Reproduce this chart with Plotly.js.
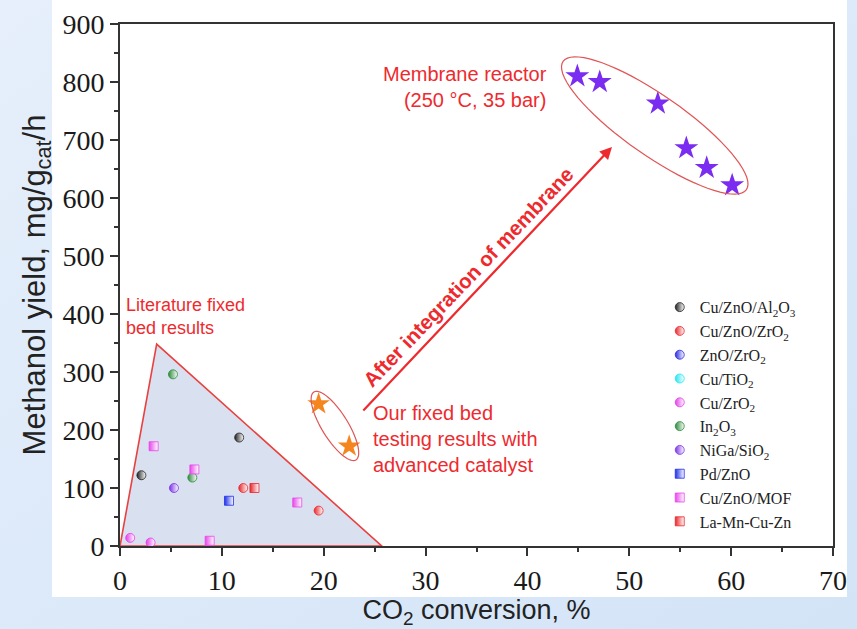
<!DOCTYPE html>
<html>
<head>
<meta charset="utf-8">
<script src="https://cdn.plot.ly/plotly-3.0.1.min.js"></script>
<style>
  html, body { margin: 0; padding: 0; width: 857px; height: 629px; overflow: hidden;
    background: linear-gradient(to bottom right, #e6effb, #d3e4f7); }
  #chart { width: 857px; height: 629px; }
</style>
</head>
<body>
<div id="chart"></div>
<script>
// ---- data ----
const catalysts = ["Cu/ZnO/Al<sub>2</sub>O<sub>3</sub>", "Cu/ZnO/ZrO<sub>2</sub>", "ZnO/ZrO<sub>2</sub>", "Cu/TiO<sub>2</sub>",
  "Cu/ZrO<sub>2</sub>", "In<sub>2</sub>O<sub>3</sub>", "NiGa/SiO<sub>2</sub>", "Pd/ZnO", "Cu/ZnO/MOF", "La-Mn-Cu-Zn"];
const litX = [
  [2.1, 11.7],            // Cu/ZnO/Al2O3
  [12.1, 19.5],           // Cu/ZnO/ZrO2
  [],                     // ZnO/ZrO2
  [],                     // Cu/TiO2
  [1.0, 3.0],             // Cu/ZrO2
  [5.2, 7.1],             // In2O3
  [5.3],                  // NiGa/SiO2
  [10.7],                 // Pd/ZnO
  [3.3, 7.3, 17.4, 8.8],  // Cu/ZnO/MOF
  [13.2]                  // La-Mn-Cu-Zn
];
const litY = [
  [122, 187],
  [100, 61],
  [],
  [],
  [14, 6],
  [296, 118],
  [100],
  [78],
  [172, 132, 75, 9],
  [100]
];
const fixedBedX = [19.5, 22.5];
const fixedBedY = [245, 172];
const membraneX = [44.9, 47.1, 52.8, 55.6, 57.6, 60.1];
const membraneY = [810, 800, 763, 686, 652, 622];
const xTicks = [0, 10, 20, 30, 40, 50, 60, 70];
const yTicks = [0, 100, 200, 300, 400, 500, 600, 700, 800, 900];

// ---- styles ----
const litColors = ["#222222", "#e8262a", "#2a2ae0", "#22e6ee", "#e43ee8", "#2a8a3a", "#7b33e6", "#1f2fe8", "#e846ea", "#e8262a"];
const litSymbols = ["circle", "circle", "circle", "circle", "circle", "circle", "circle", "square", "square", "square"];
const red = "#ee2a2e";

const traces = catalysts.map((name, i) => ({
  type: "scatter", mode: "markers", name: name,
  x: litX[i].length ? litX[i] : [null], y: litY[i].length ? litY[i] : [null],
  marker: { symbol: litSymbols[i], size: 9, color: litColors[i],
    gradient: { type: "horizontal", color: "#ffffff" },
    line: { color: litColors[i], width: 0.8 } },
  hoverinfo: "x+y+name"
}));
traces.push({ type: "scatter", mode: "markers", x: fixedBedX, y: fixedBedY, showlegend: false,
  marker: { symbol: "star", size: 17, color: "#f5861f", line: { width: 0 } } });
traces.push({ type: "scatter", mode: "markers", x: membraneX, y: membraneY, showlegend: false,
  marker: { symbol: "star", size: 18, color: "#7a2cf0", line: { width: 0 } } });

// ellipse outline as a path in data space (center, two semi-axis vectors)
function ellipsePath(cx, cy, ux, uy, vx, vy) {
  let p = "";
  for (let k = 0; k <= 72; k++) {
    const t = 2 * Math.PI * k / 72;
    const x = cx + ux * Math.cos(t) + vx * Math.sin(t);
    const y = cy + uy * Math.cos(t) + vy * Math.sin(t);
    p += (k === 0 ? "M" : "L") + x.toFixed(3) + "," + y.toFixed(3);
  }
  return p + "Z";
}

const shapes = [
  // white figure panel
  { type: "rect", xref: "paper", yref: "paper", x0: -0.0954, x1: 1.0196, y0: -0.0977, y1: 1.05,
    fillcolor: "#ffffff", line: { width: 0 }, layer: "below" },
  // literature region triangle
  { type: "path", xref: "x", yref: "y", path: "M0,0 L3.6,348 L25.7,0 Z",
    fillcolor: "#d9e0f0", line: { color: "#e8413f", width: 1.6 }, layer: "below" },
  // our fixed bed ellipse
  { type: "path", xref: "x", yref: "y", path: ellipsePath(21.1, 207, 2.06, -58.6, 1.1, 11.5),
    line: { color: "#e05555", width: 1.2 } },
  // membrane ellipse
  { type: "path", xref: "x", yref: "y", path: ellipsePath(52.5, 725, 9.0, -110.5, 1.68, 42.4),
    line: { color: "#e05555", width: 1.2 } }
];

const annFam = "Liberation Sans";
const annotations = [
  { x: 0.4, y: 395, xref: "x", yref: "y", xanchor: "left", yanchor: "middle", align: "left", showarrow: false,
    text: "Literature fixed<br>bed results", font: { family: annFam, size: 18, color: red } },
  { x: 42.1, y: 792, xref: "x", yref: "y", xanchor: "right", yanchor: "middle", align: "right", showarrow: false,
    text: "Membrane reactor<br>(250 °C, 35 bar)", font: { family: annFam, size: 20, color: red } },
  { x: 24.6, y: 184, xref: "x", yref: "y", xanchor: "left", yanchor: "middle", align: "left", showarrow: false,
    text: "Our fixed bed<br>testing results with<br>advanced catalyst", font: { family: annFam, size: 20, color: red } },
  { x: 34.2, y: 465, xref: "x", yref: "y", showarrow: false, textangle: -46.4,
    text: "<b>After integration of membrane</b>", font: { family: annFam, size: 20.5, color: red } },
  // arrow
  { x: 48.3, y: 688, ax: 23.75, ay: 231, xref: "x", yref: "y", axref: "x", ayref: "y", text: "",
    showarrow: true, arrowhead: 2, arrowsize: 1.1, arrowwidth: 2.2, arrowcolor: red }
];

const tickFont = { family: "Liberation Serif", size: 28, color: "#1a1a1a" };
const layout = {
  width: 857, height: 629,
  margin: { l: 120, r: 24, t: 24, b: 83 },
  paper_bgcolor: "rgba(0,0,0,0)", plot_bgcolor: "#ffffff",
  showlegend: true,
  legend: { x: 0.757, y: 0.49, xanchor: "left", yanchor: "top", bgcolor: "rgba(0,0,0,0)",
    font: { family: "Liberation Serif", size: 16, color: "#222" } },
  xaxis: {
    range: [0, 70], tickvals: xTicks, ticks: "outside", ticklen: 8, tickwidth: 1.5, tickcolor: "#333",
    minor: { dtick: 5, ticks: "outside", ticklen: 4, tickwidth: 1.5, tickcolor: "#333" },
    showline: true, linecolor: "#333", linewidth: 1.8, mirror: true, showgrid: false, zeroline: false,
    tickfont: tickFont,
    title: { text: "CO<sub>2</sub> conversion, %", standoff: 2,
      font: { family: "Liberation Sans", size: 27, color: "#222" } }
  },
  yaxis: {
    range: [0, 900], tickvals: yTicks, ticks: "outside", ticklen: 8, tickwidth: 1.5, tickcolor: "#333",
    minor: { dtick: 50, ticks: "outside", ticklen: 4, tickwidth: 1.5, tickcolor: "#333" },
    showline: true, linecolor: "#333", linewidth: 1.8, mirror: true, showgrid: false, zeroline: false,
    tickfont: tickFont,
    title: { text: "Methanol yield, mg/g<sub>cat</sub>/h", standoff: 8,
      font: { family: "Liberation Sans", size: 31, color: "#222" } }
  },
  shapes: shapes,
  annotations: annotations
};

Plotly.newPlot("chart", traces, layout, { displayModeBar: false });
</script>
</body>
</html>
